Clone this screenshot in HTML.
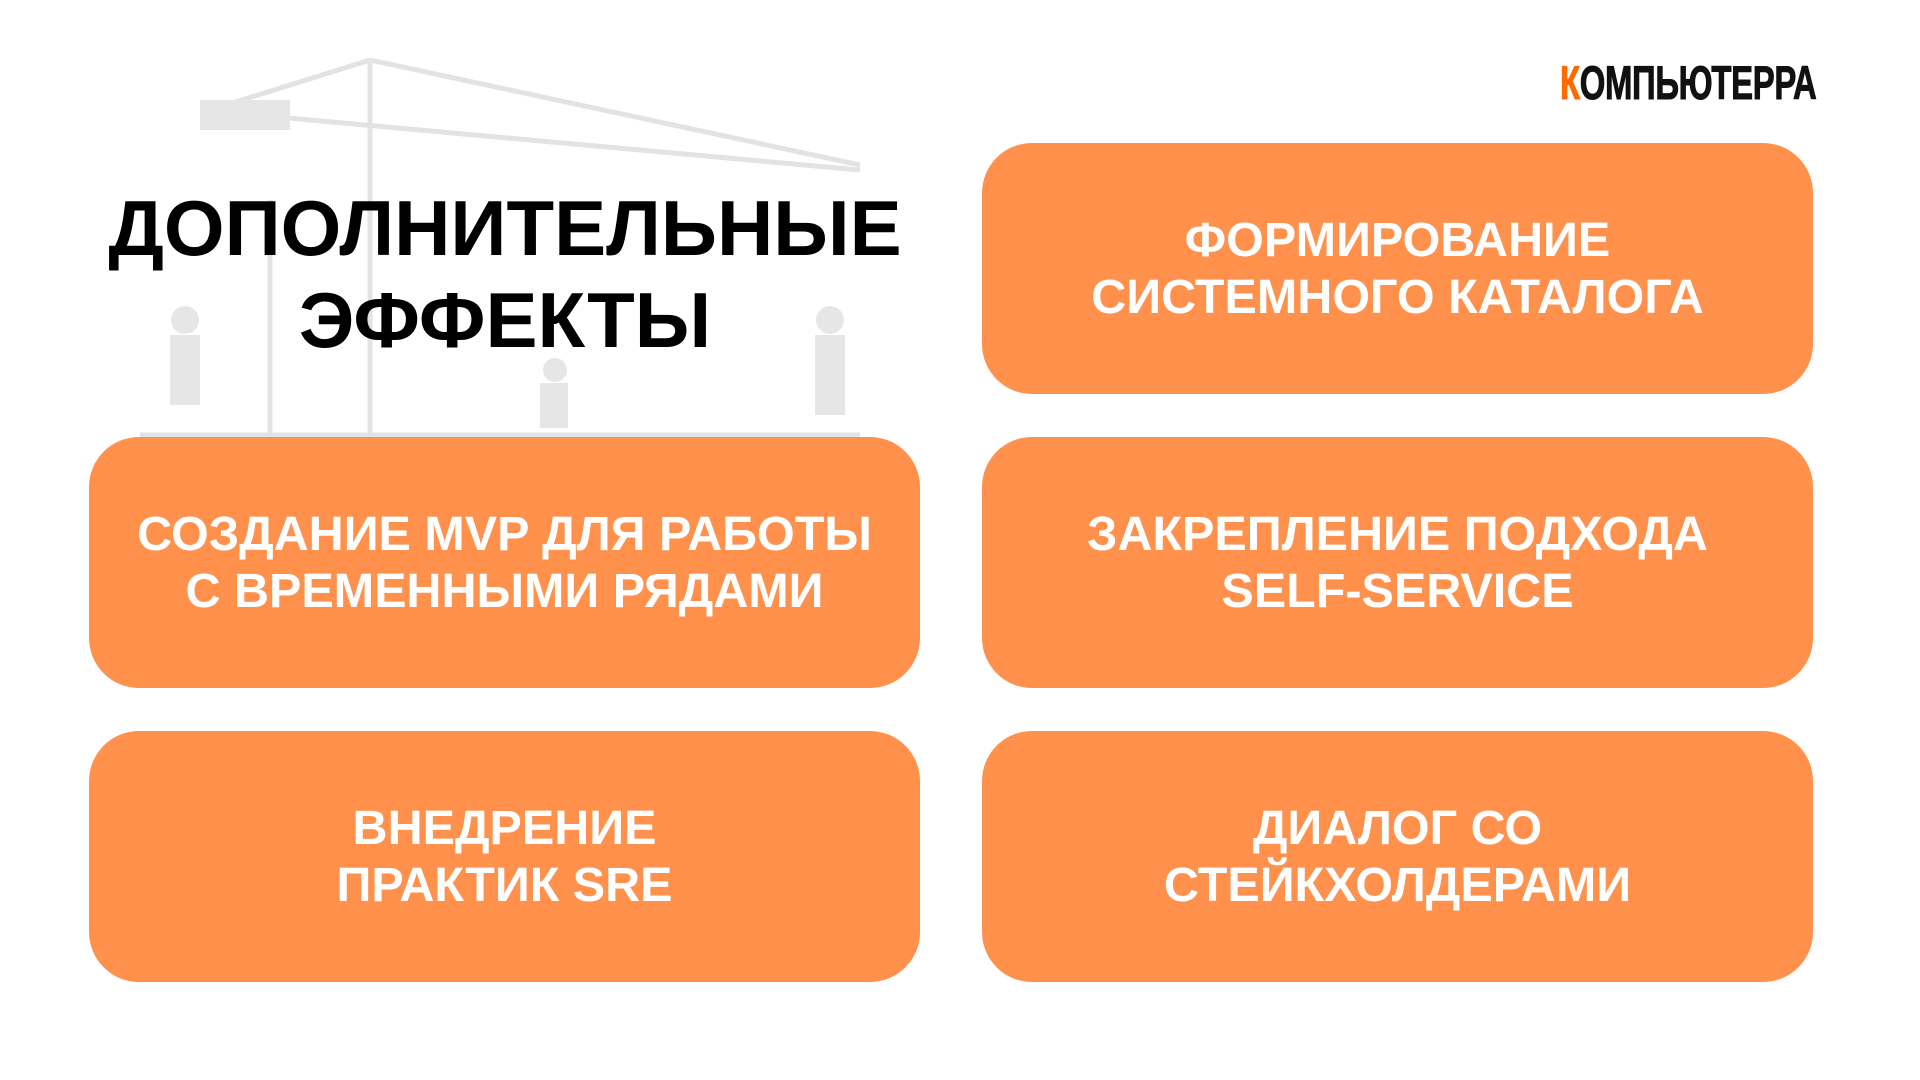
<!DOCTYPE html>
<html><head><meta charset="utf-8"><style>
body{margin:0;width:1920px;height:1080px;background:#fff;position:relative;overflow:hidden;font-family:"Liberation Sans","DejaVu Sans",sans-serif}
.b{position:absolute;width:831px;height:251px;border-radius:50px;background:#FF914D;color:#fff;font-weight:bold;font-size:48.5px;line-height:57px;display:flex;align-items:center;justify-content:center;text-align:center}
.t{position:absolute;left:60px;width:890px;top:182px;text-align:center;font-weight:bold;font-size:78px;line-height:92px;color:#000}
.logo{position:absolute;left:1560px;top:55px;font-weight:bold;font-size:47px;color:#111;transform:scaleX(0.7);transform-origin:left top;letter-spacing:-0.5px;white-space:nowrap;-webkit-text-stroke:1px #111}
</style></head><body>
<svg style="position:absolute;left:0;top:0" width="960" height="440">
<g stroke="#e3e3e3" stroke-width="5" fill="none">
<line x1="370" y1="60" x2="370" y2="435"/><line x1="200" y1="110" x2="860" y2="170"/><line x1="370" y1="60" x2="860" y2="165"/><line x1="370" y1="60" x2="210" y2="110"/>
<line x1="270" y1="200" x2="270" y2="435"/><line x1="140" y1="435" x2="860" y2="435"/>
</g>
<g fill="#e6e6e6"><rect x="200" y="100" width="90" height="30"/><circle cx="185" cy="320" r="14"/><rect x="170" y="335" width="30" height="70"/><circle cx="830" cy="320" r="14"/><rect x="815" y="335" width="30" height="80"/><circle cx="555" cy="370" r="12"/><rect x="540" y="383" width="28" height="45"/></g>
</svg>
<div class="t">ДОПОЛНИТЕЛЬНЫЕ<br>ЭФФЕКТЫ</div>
<div class="logo"><span style="color:#FF6A00;-webkit-text-stroke:1px #FF6A00">К</span>ОМПЬЮТЕРРА</div>
<div class="b" style="left:982px;top:143px">ФОРМИРОВАНИЕ<br>СИСТЕМНОГО КАТАЛОГА</div>
<div class="b" style="left:89px;top:437px">СОЗДАНИЕ MVP ДЛЯ РАБОТЫ<br>С ВРЕМЕННЫМИ РЯДАМИ</div>
<div class="b" style="left:982px;top:437px">ЗАКРЕПЛЕНИЕ ПОДХОДА<br>SELF-SERVICE</div>
<div class="b" style="left:89px;top:731px">ВНЕДРЕНИЕ<br>ПРАКТИК SRE</div>
<div class="b" style="left:982px;top:731px">ДИАЛОГ СО<br>СТЕЙКХОЛДЕРАМИ</div>
</body></html>
